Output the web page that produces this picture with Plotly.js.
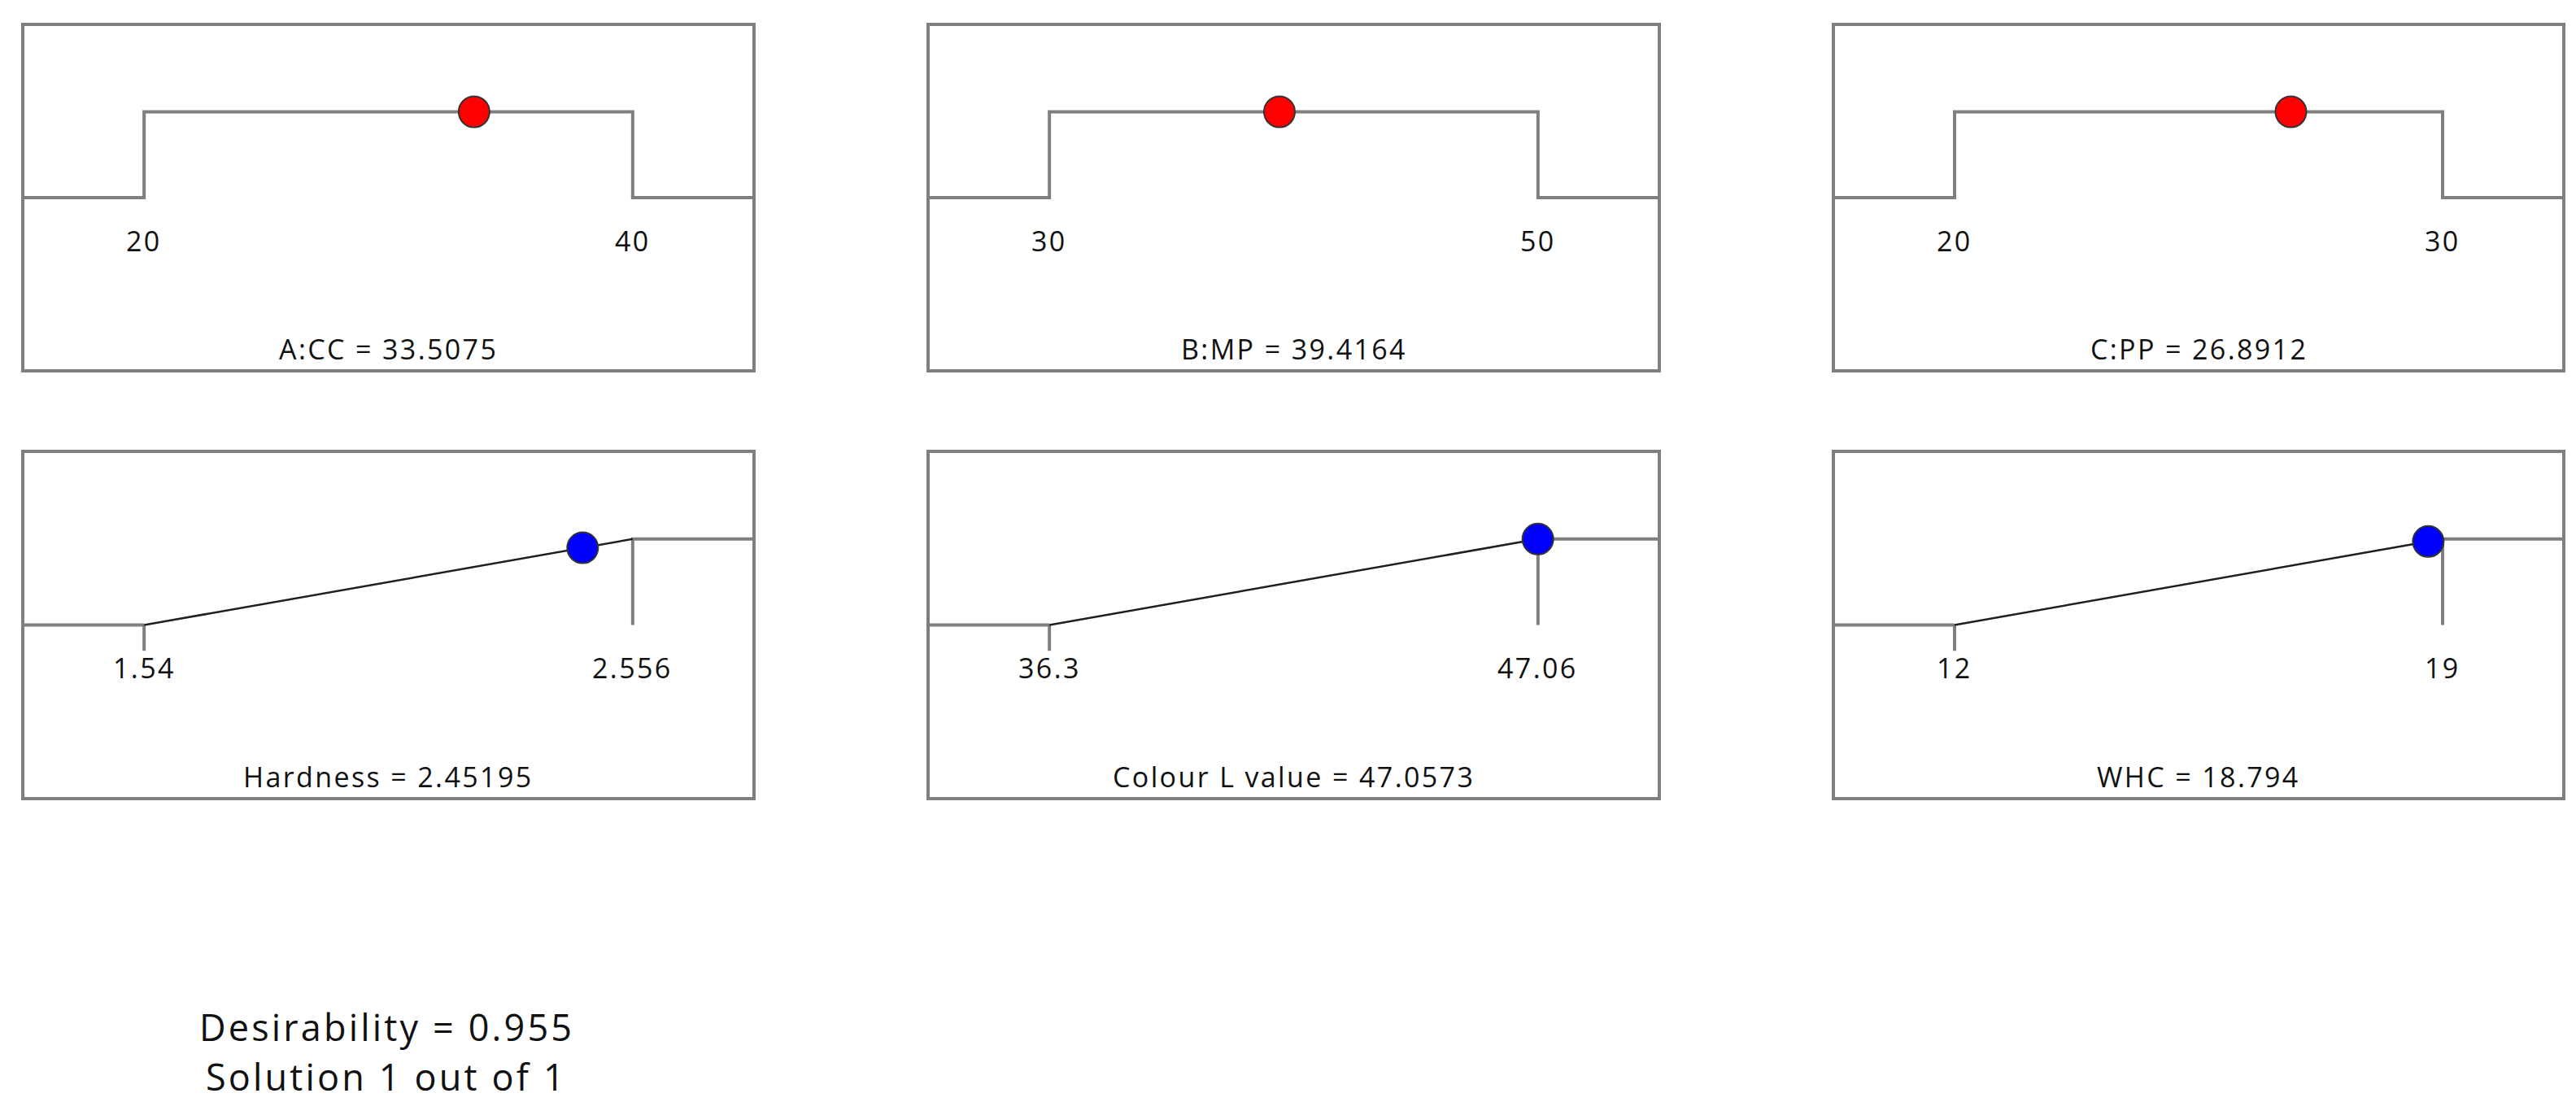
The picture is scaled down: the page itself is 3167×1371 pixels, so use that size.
<!DOCTYPE html>
<html>
<head>
<meta charset="utf-8">
<script src="https://cdn.plot.ly/plotly-3.0.1.min.js"></script>
<style>
  html, body { margin: 0; padding: 0; background: #fff; }
  #graph { width: 3167px; height: 1371px; }
  /* the reference text is set a little loosely */
  .annotation-text { letter-spacing: 0.07em; }
</style>
</head>
<body>
<div id="graph"></div>
<script>
// factors (top row)
const factorNames = ['A:CC', 'B:MP', 'C:PP'];
const factorLow = [20, 30, 20];
const factorHigh = [40, 50, 30];
const factorValue = [33.5075, 39.4164, 26.8912];

// responses (bottom row)
const responseNames = ['Hardness', 'Colour L value', 'WHC'];
const responseLow = [1.54, 36.3, 12];
const responseHigh = [2.556, 47.06, 19];
const responseValue = [2.45195, 47.0573, 18.794];

const desirability = 0.955;
const solutionText = 'Solution 1 out of 1';

const gray = '#7f7f7f';
const fontFam = '"Open Sans", "Noto Sans", sans-serif';

// panel placement in paper coords
const colDomains = [[30 / 3167, 925 / 3167], [1143 / 3167, 2038 / 3167], [2256 / 3167, 3150 / 3167]];
const rowDomains = [[1 - 454 / 1371, 1 - 32 / 1371], [1 - 980 / 1371, 1 - 557 / 1371]];

let data = [];
let layout = {
    width: 3167,
    height: 1371,
    margin: {l: 0, r: 0, t: 0, b: 0},
    paper_bgcolor: '#fff',
    plot_bgcolor: '#fff',
    showlegend: false,
    annotations: []
};

function addPanel(idx, row, col, name, lo, hi, val) {
    const n = idx + 1;
    const xa = n === 1 ? 'x' : 'x' + n;
    const ya = n === 1 ? 'y' : 'y' + n;
    const pad = (hi - lo) * 0.245;
    const xmin = lo - pad, xmax = hi + pad;

    const axStyle = {
        showline: true, mirror: true, linewidth: 4, linecolor: gray,
        showgrid: false, zeroline: false, showticklabels: false, ticks: '',
        fixedrange: true
    };
    layout['xaxis' + (n === 1 ? '' : n)] = Object.assign({}, axStyle, {
        domain: colDomains[col], range: [xmin, xmax], anchor: ya
    });
    layout['yaxis' + (n === 1 ? '' : n)] = Object.assign({}, axStyle, {
        domain: rowDomains[row], range: [-2, 2], anchor: xa
    });

    let dotY = 1;
    if (row === 0) {
        data.push({
            x: [xmin, lo, lo, hi, hi, xmax], y: [0, 0, 1, 1, 0, 0],
            xaxis: xa, yaxis: ya, type: 'scatter', mode: 'lines',
            line: {color: gray, width: 4}, hoverinfo: 'skip'
        });
    } else {
        dotY = Math.min(1, Math.max(0, (val - lo) / (hi - lo)));
        data.push({
            x: [xmin, lo, null, lo, lo, null, hi, hi, xmax], y: [0, 0, null, 0, -0.3, null, 0, 1, 1],
            xaxis: xa, yaxis: ya, type: 'scatter', mode: 'lines',
            line: {color: gray, width: 4}, hoverinfo: 'skip', connectgaps: false
        });
        data.push({
            x: [lo, hi], y: [0, 1],
            xaxis: xa, yaxis: ya, type: 'scatter', mode: 'lines',
            line: {color: '#1f1f1f', width: 2.5}, hoverinfo: 'skip'
        });
    }

    data.push({
        x: [val], y: [dotY],
        xaxis: xa, yaxis: ya, type: 'scatter', mode: 'markers',
        marker: {size: 38, color: row === 0 ? '#ff0000' : '#0000ff', line: {color: '#333', width: 2}},
        hoverinfo: 'x'
    });

    [lo, hi].forEach(v => {
        layout.annotations.push({
            x: v, y: -0.5, xref: xa, yref: ya, text: String(v), showarrow: false,
            xanchor: 'center', yanchor: 'middle',
            font: {family: fontFam, size: 34, color: '#111'}
        });
    });
    layout.annotations.push({
        x: (xmin + xmax) / 2, y: -1.76, xref: xa, yref: ya,
        text: name + ' = ' + val, showarrow: false,
        xanchor: 'center', yanchor: 'middle',
        font: {family: fontFam, size: 34, color: '#111'}
    });
}

factorNames.forEach((nm, i) => addPanel(i, 0, i, nm, factorLow[i], factorHigh[i], factorValue[i]));
responseNames.forEach((nm, i) => addPanel(i + 3, 1, i, nm, responseLow[i], responseHigh[i], responseValue[i]));

const bottomLines = ['Desirability = ' + desirability, solutionText];
const bottomY = [1262, 1323];
bottomLines.forEach((t, i) => {
    layout.annotations.push({
        x: 475 / 3167, y: 1 - bottomY[i] / 1371, xref: 'paper', yref: 'paper',
        text: t, showarrow: false, xanchor: 'center', yanchor: 'middle',
        font: {family: fontFam, size: 45, color: '#111'}
    });
});

Plotly.newPlot('graph', data, layout, {displayModeBar: false, staticPlot: true});
</script>
</body>
</html>
